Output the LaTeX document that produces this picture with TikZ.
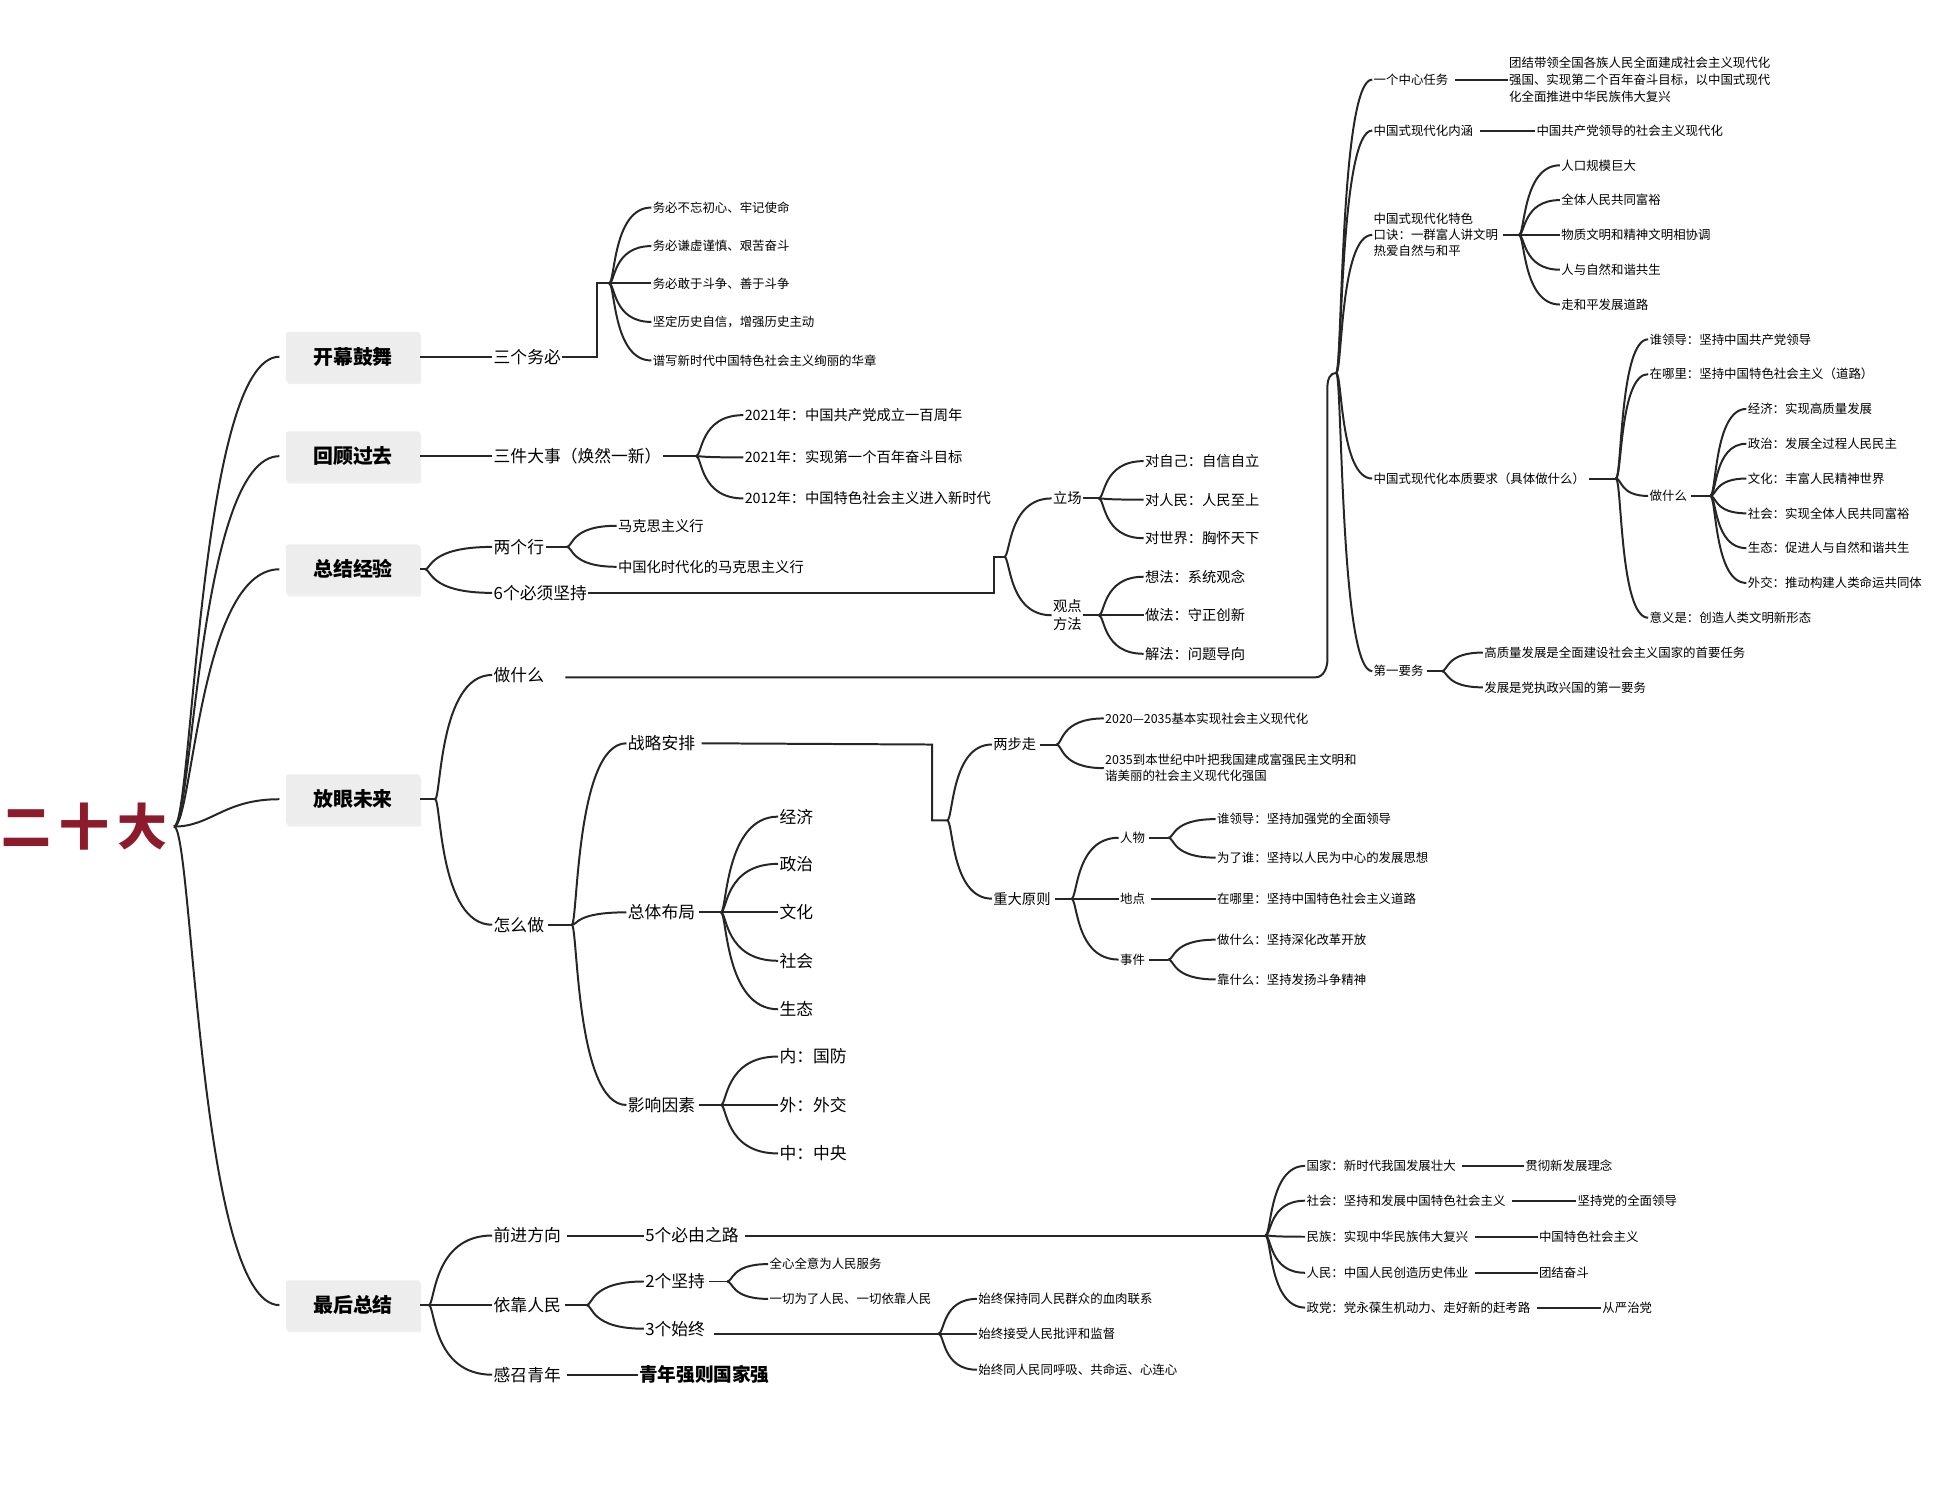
\documentclass[tikz,border=0pt]{standalone}
\usepackage{fontspec}
\setmainfont{Noto Sans CJK SC}
\usetikzlibrary{shadows,calc}
\definecolor{ttl}{HTML}{8C1C2C}
\newcommand\fan[2]{\foreach \c in {#2} {\draw[ln] (#1) .. controls ($(#1)+(5,0)$) and ($(#1 |- \c.west)+(3,0)$) .. (\c.west);}}
\begin{document}
\begin{tikzpicture}[x=1pt,y=-1pt,
 ln/.style={line width=1.6pt,black!85},
 t/.style={anchor=west,inner sep=1pt,align=left},
 s/.style={t,font=\fontsize{10}{13}\selectfont},
 sm/.style={t,font=\fontsize{11.5}{14}\selectfont},
 m/.style={t,font=\fontsize{13.5}{16}\selectfont},
 h/.style={fill=black!7,rounded corners=2pt,minimum width=108,minimum height=40,font=\fontsize{16}{18}\selectfont\bfseries,drop shadow={opacity=.12,shadow xshift=1pt,shadow yshift=-2pt}},
]
\useasboundingbox (0,0) rectangle (1560,1199);
\node[text=ttl,font=\fontsize{40}{44}\selectfont\bfseries] (title) at (68,665) {二\,十\,大};
\coordinate (r) at (140,665);
\node[h] (h1) at (284,287) {开幕鼓舞};
\node[h] (h2) at (284,367) {回顾过去};
\node[h] (h3) at (284,458) {总结经验};
\node[h] (h4) at (284,643) {放眼未来};
\node[h] (h5) at (284,1050) {最后总结};
\foreach \c in {h1,h2,h3,h5} {\draw[ln] (r) .. controls ($(r)+(15,0)$) and ($(r |- \c.west)+(20,0)$) .. ($(\c.west)+(-5,0)$);}
\draw[ln] (r) .. controls ($(r)+(30,0)$) and ($(h4.west)+(-50,0)$) .. ($(h4.west)+(-5,0)$);
% 开幕鼓舞
\node[m] (a1) at (396,287) {三个务必};
\draw[ln] (h1.east)--(a1.west);
\coordinate (fa) at (490,228);
\draw[ln] (a1.east)--(480,287)--(480,228)--(fa);
\node[s] (a11) at (524,167) {务必不忘初心、牢记使命};
\node[s] (a12) at (524,198) {务必谦虚谨慎、艰苦奋斗};
\node[s] (a13) at (524,228) {务必敢于斗争、善于斗争};
\node[s] (a14) at (524,259) {坚定历史自信，增强历史主动};
\node[s] (a15) at (524,290) {谱写新时代中国特色社会主义绚丽的华章};
\fan{fa}{a11,a12,a13,a14,a15}
% 回顾过去
\node[m] (b1) at (396,367) {三件大事（焕然一新）};
\draw[ln] (h2.east)--(b1.west);
\coordinate (fb) at (560,367);
\draw[ln] (b1.east)--(fb);
\node[sm] (b11) at (598,334) {2021年：中国共产党成立一百周年};
\node[sm] (b12) at (598,368) {2021年：实现第一个百年奋斗目标};
\node[sm] (b13) at (598,401) {2012年：中国特色社会主义进入新时代};
\fan{fb}{b11,b12,b13}
% 总结经验
\coordinate (fc) at (342,458);
\draw[ln] (h3.east)--(fc);
\node[m] (c1) at (396,440) {两个行};
\node[m] (c2) at (396,477) {6个必须坚持};
\fan{fc}{c1,c2}
\coordinate (fc1) at (456,440);
\draw[ln] (c1.east)--(fc1);
\node[sm] (c11) at (496,423) {马克思主义行};
\node[sm] (c12) at (496,456) {中国化时代化的马克思主义行};
\fan{fc1}{c11,c12}
\coordinate (fc2) at (808,448);
\draw[ln] (c2.east)--(800,477)--(800,448)--(fc2);
\node[sm] (c21) at (846,401) {立场};
\node[sm,align=center] (c22) at (846,495) {观点\\方法};
\fan{fc2}{c21,c22}
\coordinate (fc21) at (884,401);
\coordinate (fc22) at (884,495);
\draw[ln] (c21.east)--(fc21); \draw[ln] (c22.east)--(fc22);
\node[sm] (c211) at (920,371) {对自己：自信自立};
\node[sm] (c212) at (920,402) {对人民：人民至上};
\node[sm] (c213) at (920,433) {对世界：胸怀天下};
\node[sm] (c221) at (920,464) {想法：系统观念};
\node[sm] (c222) at (920,495) {做法：守正创新};
\node[sm] (c223) at (920,526) {解法：问题导向};
\fan{fc21}{c211,c212,c213}
\fan{fc22}{c221,c222,c223}
% 放眼未来
\coordinate (fd) at (350,643);
\draw[ln] (h4.east)--(fd);
\node[m] (d1) at (396,543) {做什么};
\node[m] (d2) at (396,744) {怎么做};
\fan{fd}{d1,d2}
\coordinate (fx) at (1075,300);
\draw[ln] (d1.east)++(16,2)--(1058,545) to[out=0,in=-90] (1068,530) -- (1068,310) to[out=90,in=180] (fx);
\node[s] (x1) at (1104,64) {一个中心任务};
\node[s] (x2) at (1104,105) {中国式现代化内涵};
\node[s] (x3) at (1104,189) {中国式现代化特色\\口诀：一群富人讲文明\\热爱自然与和平};
\node[s] (x4) at (1104,385) {中国式现代化本质要求（具体做什么）};
\node[s] (x5) at (1104,540) {第一要务};
\fan{fx}{x1,x2,x3,x4,x5}
\node[s,font=\fontsize{10}{13.5}\selectfont] (x11) at (1213,64) {团结带领全国各族人民全面建成社会主义现代化\\强国、实现第二个百年奋斗目标，以中国式现代\\化全面推进中华民族伟大复兴};
\draw[ln] (x1.east)++(4,0)--(x11.west);
\node[s] (x21) at (1235,105) {中国共产党领导的社会主义现代化};
\draw[ln] (x2.east)++(4,0)--(x21.west);
\coordinate (fx3) at (1222,189);
\draw[ln] (x3.east)++(3,0)--(fx3);
\node[s] (x31) at (1255,133) {人口规模巨大};
\node[s] (x32) at (1255,161) {全体人民共同富裕};
\node[s] (x33) at (1255,189) {物质文明和精神文明相协调};
\node[s] (x34) at (1255,217) {人与自然和谐共生};
\node[s] (x35) at (1255,245) {走和平发展道路};
\fan{fx3}{x31,x32,x33,x34,x35}
\coordinate (fx4) at (1300,385);
\draw[ln] (x4.east)++(2,0)--(fx4);
\node[s] (x41) at (1326,273) {谁领导：坚持中国共产党领导};
\node[s] (x42) at (1326,301) {在哪里：坚持中国特色社会主义（道路）};
\node[s] (x43) at (1326,399) {做什么};
\node[s] (x44) at (1326,497) {意义是：创造人类文明新形态};
\fan{fx4}{x41,x42,x43,x44}
\coordinate (fx43) at (1376,399);
\draw[ln] (x43.east)++(2,0)--(fx43);
\node[s] (y1) at (1405,329) {经济：实现高质量发展};
\node[s] (y2) at (1405,357) {政治：发展全过程人民民主};
\node[s] (y3) at (1405,385) {文化：丰富人民精神世界};
\node[s] (y4) at (1405,413) {社会：实现全体人民共同富裕};
\node[s] (y5) at (1405,441) {生态：促进人与自然和谐共生};
\node[s] (y6) at (1405,469) {外交：推动构建人类命运共同体};
\fan{fx43}{y1,y2,y3,y4,y5,y6}
\coordinate (fx5) at (1160,540);
\draw[ln] (x5.east)++(2,0)--(fx5);
\node[s] (x51) at (1193,525) {高质量发展是全面建设社会主义国家的首要任务};
\node[s] (x52) at (1193,553) {发展是党执政兴国的第一要务};
\fan{fx5}{x51,x52}
% 怎么做
\coordinate (fe) at (460,744);
\draw[ln] (d2.east)++(2,0)--(fe);
\node[m] (e1) at (504,598) {战略安排};
\node[m] (e2) at (504,734) {总体布局};
\node[m] (e3) at (504,889) {影响因素};
\fan{fe}{e1,e2,e3}
\coordinate (fe1) at (762,660);
\draw[ln] (e1.east)++(4,0)--(750,599)--(750,660)--(fe1);
\node[sm] (e11) at (798,599) {两步走};
\node[sm] (e12) at (798,723) {重大原则};
\fan{fe1}{e11,e12}
\coordinate (fe11) at (850,599);
\draw[ln] (e11.east)++(2,0)--(fe11);
\node[s] (e111) at (888,578) {2020—2035基本实现社会主义现代化};
\node[s] (e112) at (888,618) {2035到本世纪中叶把我国建成富强民主文明和\\谐美丽的社会主义现代化强国};
\fan{fe11}{e111,e112}
\coordinate (fe12) at (862,723);
\draw[ln] (e12.east)++(2,0)--(fe12);
\node[s] (p1) at (900,674) {人物};
\node[s] (p2) at (900,723) {地点};
\node[s] (p3) at (900,772) {事件};
\fan{fe12}{p1,p2,p3}
\coordinate (fp1) at (940,674);
\coordinate (fp3) at (940,772);
\draw[ln] (p1.east)++(2,0)--(fp1); \draw[ln] (p3.east)++(2,0)--(fp3);
\node[s] (p11) at (978,659) {谁领导：坚持加强党的全面领导};
\node[s] (p12) at (978,690) {为了谁：坚持以人民为中心的发展思想};
\node[s] (p21) at (978,723) {在哪里：坚持中国特色社会主义道路};
\node[s] (p31) at (978,756) {做什么：坚持深化改革开放};
\node[s] (p32) at (978,788) {靠什么：坚持发扬斗争精神};
\fan{fp1}{p11,p12}
\draw[ln] (p2.east)++(4,0)--(p21.west);
\fan{fp3}{p31,p32}
\coordinate (fe2) at (580,734);
\draw[ln] (e2.east)++(2,0)--(fe2);
\node[m] (g1) at (626,657) {经济};
\node[m] (g2) at (626,695) {政治};
\node[m] (g3) at (626,734) {文化};
\node[m] (g4) at (626,773) {社会};
\node[m] (g5) at (626,812) {生态};
\fan{fe2}{g1,g2,g3,g4,g5}
\coordinate (fe3) at (580,889);
\draw[ln] (e3.east)++(2,0)--(fe3);
\node[m] (k1) at (626,850) {内：国防};
\node[m] (k2) at (626,889) {外：外交};
\node[m] (k3) at (626,928) {中：中央};
\fan{fe3}{k1,k2,k3}
% 最后总结
\coordinate (ff) at (345,1050);
\draw[ln] (h5.east)--(ff);
\node[m] (f1) at (396,994) {前进方向};
\node[m] (f2) at (396,1050) {依靠人民};
\node[m] (f3) at (396,1106) {感召青年};
\fan{ff}{f1,f2,f3}
\node[m] (f11) at (518,994) {5个必由之路};
\draw[ln] (f1.east)++(4,0)--(f11.west);
\coordinate (ff1) at (1018,994);
\draw[ln] (f11.east)++(4,0)--(ff1);
\node[s] (q1) at (1050,938) {国家：新时代我国发展壮大};
\node[s] (q2) at (1050,966) {社会：坚持和发展中国特色社会主义};
\node[s] (q3) at (1050,995) {民族：实现中华民族伟大复兴};
\node[s] (q4) at (1050,1024) {人民：中国人民创造历史伟业};
\node[s] (q5) at (1050,1052) {政党：党永葆生机动力、走好新的赶考路};
\fan{ff1}{q1,q2,q3,q4,q5}
\node[s] (r1) at (1226,938) {贯彻新发展理念};
\node[s] (r2) at (1268,966) {坚持党的全面领导};
\node[s] (r3) at (1237,995) {中国特色社会主义};
\node[s] (r4) at (1237,1024) {团结奋斗};
\node[s] (r5) at (1288,1052) {从严治党};
\foreach \i in {1,...,5} {\draw[ln] (q\i.east)++(4,0)--(r\i.west);}
\coordinate (ff2) at (472,1050);
\draw[ln] (f2.east)++(2,0)--(ff2);
\node[m] (f21) at (518,1031) {2个坚持};
\node[m] (f22) at (518,1069) {3个始终};
\fan{ff2}{f21,f22}
\coordinate (ff21) at (585,1031);
\draw[ln] (f21.east)++(2,0)--(ff21);
\node[s] (u1) at (618,1017) {全心全意为人民服务};
\node[s] (u2) at (618,1045) {一切为了人民、一切依靠人民};
\fan{ff21}{u1,u2}
\coordinate (ff22) at (755,1073);
\draw[ln] ($(f22.east |- ff22)+(6,0)$)--(ff22);
\node[s] (v1) at (786,1045) {始终保持同人民群众的血肉联系};
\node[s] (v2) at (786,1073) {始终接受人民批评和监督};
\node[s] (v3) at (786,1102) {始终同人民同呼吸、共命运、心连心};
\fan{ff22}{v1,v2,v3}
\node[m,font=\fontsize{15}{18}\selectfont\bfseries] (f31) at (513,1106) {青年强则国家强};
\draw[ln] (f3.east)++(4,0)--(f31.west);
\end{tikzpicture}
\end{document}
